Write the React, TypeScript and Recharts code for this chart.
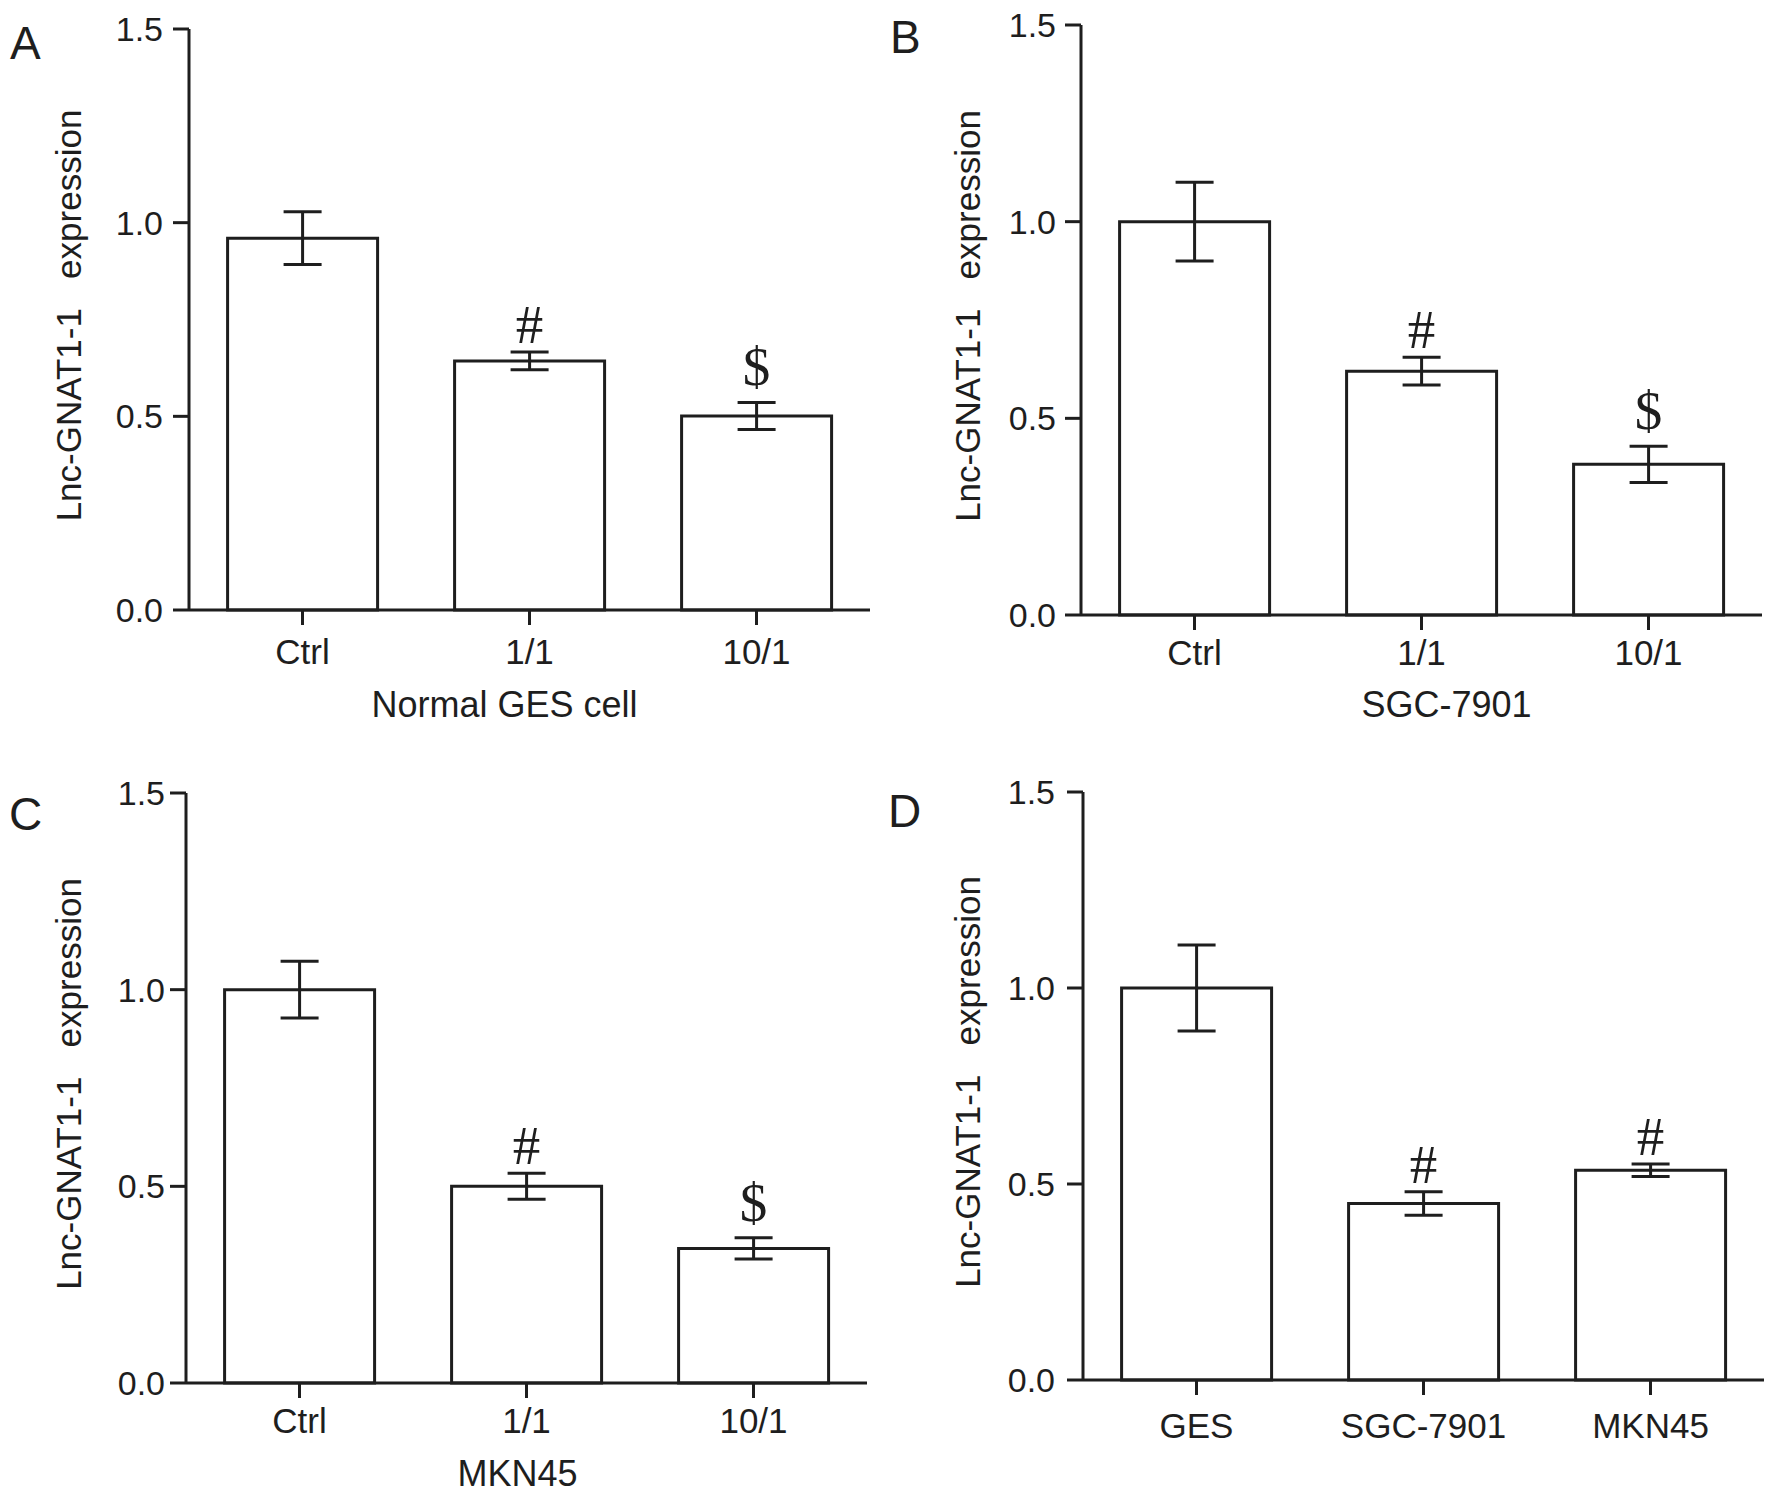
import React from 'react';
import { BarChart, Bar, XAxis, YAxis, ErrorBar, LabelList } from 'recharts';

// ---- data ----
const categoriesA = ['Ctrl', '1/1', '10/1'];
const valuesA = [0.96, 0.643, 0.501];
const errorsA = [0.068, 0.023, 0.035];
const marksA = ['', '#', '$'];

const categoriesB = ['Ctrl', '1/1', '10/1'];
const valuesB = [1.0, 0.62, 0.383];
const errorsB = [0.1, 0.035, 0.046];
const marksB = ['', '#', '$'];

const categoriesC = ['Ctrl', '1/1', '10/1'];
const valuesC = [1.0, 0.5, 0.342];
const errorsC = [0.072, 0.033, 0.027];
const marksC = ['', '#', '$'];

const categoriesD = ['GES', 'SGC-7901', 'MKN45'];
const valuesD = [1.0, 0.45, 0.535];
const errorsD = [0.11, 0.03, 0.016];
const marksD = ['', '#', '#'];

const yTicks = [0, 0.5, 1.0, 1.5];
const yLabel = 'Lnc-GNAT1-1   expression';

const SANS = "'Liberation Sans', Arial, Helvetica, sans-serif";
const SERIF = "'Liberation Serif', 'Times New Roman', serif";
const INK = '#1e1e1e';

type Row = { name: string; value: number; err: number; mark: string };

const buildRows = (cats: string[], vals: number[], errs: number[], marks: string[]): Row[] =>
  cats.map((name, i) => ({ name, value: vals[i], err: errs[i], mark: marks[i] }));

const makeYLabel = (offset: number) => (props: any) => {
  const vb = props.viewBox;
  const x = vb.x + vb.width - offset;
  const y = vb.y + vb.height / 2 - 4;
  return (
    <text
      x={x}
      y={y}
      transform={`rotate(-90, ${x}, ${y})`}
      textAnchor="middle"
      fontSize={35}
      fill={INK}
      fontFamily={SANS}
      style={{ whiteSpace: 'pre' }}
    >
      {yLabel}
    </text>
  );
};

const makeXLabel = (title: string, dx: number, dy: number) => (props: any) => {
  if (!title) return null;
  const vb = props.viewBox;
  return (
    <text x={vb.x + vb.width / 2 + dx} y={vb.y + dy} textAnchor="middle" fontSize={36} fill={INK} fontFamily={SANS}>
      {title}
    </text>
  );
};

const makeMark = (rows: Row[]) => (props: any) => {
  const idx = props.index;
  const row = rows[idx];
  if (!row || !row.mark) return null;
  const vb = props.viewBox || props;
  const x = Number(vb.x);
  const y = Number(vb.y);
  const w = Number(vb.width);
  const h = Number(vb.height);
  const perUnit = h / row.value;
  const errTop = y - row.err * perUnit;
  const off = row.mark === '$' ? 17 : 9;
  return (
    <text x={x + w / 2} y={errTop - off} textAnchor="middle" fontSize={55} fill={INK} fontFamily={SERIF}>
      {row.mark}
    </text>
  );
};

type PanelProps = {
  rows: Row[];
  left: number;
  top: number;
  width: number;
  height: number;
  marginTop: number;
  marginRight: number;
  yAxisWidth: number;
  xAxisHeight: number;
  yTickMargin: number;
  xTickMargin: number;
  yLabelOffset: number;
  title: string;
  titleDx: number;
  titleDy: number;
};

const Panel = (p: PanelProps) => (
  <div style={{ position: 'absolute', left: p.left, top: p.top, width: p.width, height: p.height }}>
    <BarChart
      width={p.width}
      height={p.height}
      data={p.rows}
      margin={{ top: p.marginTop, right: p.marginRight, bottom: 0, left: 0 }}
      barCategoryGap="17%"
    >
      <XAxis
        dataKey="name"
        height={p.xAxisHeight}
        interval={0}
        tickSize={15}
        tickMargin={p.xTickMargin}
        axisLine={{ stroke: INK, strokeWidth: 3 }}
        tickLine={{ stroke: INK, strokeWidth: 3 }}
        tick={{ fontSize: 35, fill: INK, fontFamily: SANS }}
        label={makeXLabel(p.title, p.titleDx, p.titleDy)}
      />
      <YAxis
        type="number"
        domain={[0, 1.5]}
        ticks={yTicks}
        interval={0}
        width={p.yAxisWidth}
        tickSize={16}
        tickMargin={p.yTickMargin}
        tickFormatter={(v: number) => v.toFixed(1)}
        axisLine={{ stroke: INK, strokeWidth: 3 }}
        tickLine={{ stroke: INK, strokeWidth: 3 }}
        tick={{ fontSize: 34, fill: INK, fontFamily: SANS }}
        label={makeYLabel(p.yLabelOffset)}
      />
      <Bar dataKey="value" fill="#ffffff" stroke={INK} strokeWidth={3} isAnimationActive={false}>
        <ErrorBar dataKey="err" width={19} strokeWidth={3} stroke={INK} direction="y" isAnimationActive={false} />
        <LabelList dataKey="mark" content={makeMark(p.rows)} />
      </Bar>
    </BarChart>
  </div>
);

const rowsA = buildRows(categoriesA, valuesA, errorsA, marksA);
const rowsB = buildRows(categoriesB, valuesB, errorsB, marksB);
const rowsC = buildRows(categoriesC, valuesC, errorsC, marksC);
const rowsD = buildRows(categoriesD, valuesD, errorsD, marksD);

export default function App() {
  return (
    <div style={{ position: 'absolute', left: 0, top: 0, width: 1774, height: 1497, background: '#fff', overflow: 'hidden' }}>
      <Panel rows={rowsA} left={0} top={0} width={887} height={748} marginTop={29} marginRight={17}
        yAxisWidth={189} xAxisHeight={138} yTickMargin={10} xTickMargin={14} yLabelOffset={108}
        title="Normal GES cell" titleDx={-25} titleDy={107} />
      <Panel rows={rowsB} left={887} top={0} width={887} height={748} marginTop={25} marginRight={12}
        yAxisWidth={194} xAxisHeight={133} yTickMargin={9} xTickMargin={10} yLabelOffset={101}
        title="SGC-7901" titleDx={25} titleDy={102} />
      <Panel rows={rowsC} left={0} top={748} width={887} height={749} marginTop={45} marginRight={20}
        yAxisWidth={186} xAxisHeight={114} yTickMargin={5} xTickMargin={10} yLabelOffset={105}
        title="MKN45" titleDx={-9} titleDy={103} />
      <Panel rows={rowsD} left={887} top={748} width={887} height={749} marginTop={44} marginRight={10}
        yAxisWidth={196} xAxisHeight={117} yTickMargin={12} xTickMargin={18} yLabelOffset={103}
        title="" titleDx={0} titleDy={0} />
      <svg width={1774} height={1497} style={{ position: 'absolute', left: 0, top: 0, pointerEvents: 'none' }}>
        <text x={10} y={59} fontSize={46} fill={INK} fontFamily={SANS}>A</text>
        <text x={890} y={53} fontSize={46} fill={INK} fontFamily={SANS}>B</text>
        <text x={9} y={830} fontSize={46} fill={INK} fontFamily={SANS}>C</text>
        <text x={888} y={827} fontSize={46} fill={INK} fontFamily={SANS}>D</text>
      </svg>
    </div>
  );
}
